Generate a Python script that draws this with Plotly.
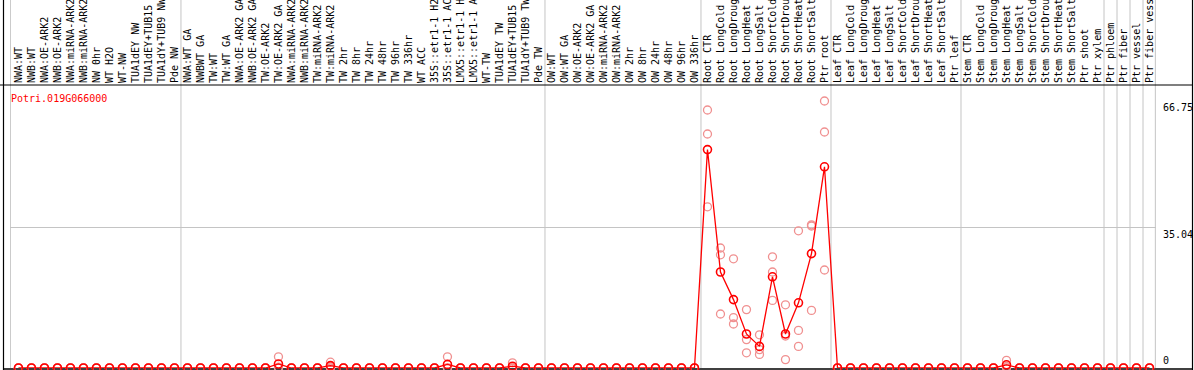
import plotly.graph_objects as go

# ---------------- data ----------------
labels = [
    "NWA:WT", "NWB:WT", "NWA:OE-ARK2", "NWB:OE-ARK2", "NWA:miRNA-ARK2", "NWB:miRNA-ARK2",
    "NW 0hr", "WT H2O", "WT-NW", "TUA1dEY NW", "TUA1dEY+TUB15", "TUA1dY+TUB9 NW", "Pde NW",
    "NWA:WT GA", "NWBWT GA", "TW:WT", "TW:WT GA", "NWA:OE-ARK2 GA", "NWB:OE-ARK2 GA",
    "TW:OE-ARK2", "TW:OE-ARK2 GA", "NWA:miRNA-ARK2", "NWB:miRNA-ARK2", "TW:miRNA-ARK2",
    "TW:miRNA-ARK2", "TW 2hr", "TW 8hr", "TW 24hr", "TW 48hr", "TW 96hr", "TW 336hr", "WT ACC",
    "35S::etr1-1 H2O", "35S::etr1-1 ACC", "LMX5::etr1-1 H2O", "LMX5::etr1-1 ACC", "WT-TW",
    "TUA1dEY TW", "TUA1dEY+TUB15", "TUA1dY+TUB9 TW", "Pde TW",
    "OW:WT", "OW:WT GA", "OW:OE-ARK2", "OW:OE-ARK2 GA", "OW:miRNA-ARK2", "OW:miRNA-ARK2",
    "OW 2hr", "OW 8hr", "OW 24hr", "OW 48hr", "OW 96hr", "OW 336hr",
    "Root CTR", "Root LongCold", "Root LongDrought", "Root LongHeat", "Root LongSalt",
    "Root ShortCold", "Root ShortDrought", "Root ShortHeat", "Root ShortSalt", "Ptr root",
    "Leaf CTR", "Leaf LongCold", "Leaf LongDrought", "Leaf LongHeat", "Leaf LongSalt",
    "Leaf ShortCold", "Leaf ShortDrought", "Leaf ShortHeat", "Leaf ShortSalt", "Ptr leaf",
    "Stem CTR", "Stem LongCold", "Stem LongDrought", "Stem LongHeat", "Stem LongSalt",
    "Stem ShortCold", "Stem ShortDrought", "Stem ShortHeat", "Stem ShortSalt", "Ptr shoot",
    "Ptr xylem", "Ptr phloem", "Ptr fiber", "Ptr vessel", "Ptr fiber vessel",
]

mean_values = [
    0, 0, 0, 0, 0, 0, 0, 0, 0, 0, 0, 0, 0,
    0, 0, 0, 0, 0, 0, 0, 1.0, 0, 0, 0, 0.6, 0, 0, 0, 0, 0, 0, 0, 0, 0.9, 0, 0, 0, 0, 0.45, 0, 0,
    0, 0, 0, 0, 0, 0, 0, 0, 0, 0, 0, 0,
    54.6, 24.0, 17.1, 8.5, 5.4, 22.8, 8.5, 16.3, 28.6, 50.3,
    0, 0, 0, 0, 0, 0, 0, 0, 0, 0,
    0, 0, 0, 0.8, 0, 0, 0, 0, 0, 0, 0,
    0, 0, 0, 0,
]

rep1 = [
    0, 0, 0, 0, 0, 0, 0, 0, 0, 0, 0, 0, 0,
    0, 0, 0, 0, 0, 0, 0, 2.8, 0, 0, 0, 1.45, 0, 0, 0, 0, 0, 0, 0, 0, 2.8, 0, 0, 0, 0, 1.3, 0, 0,
    0, 0, 0, 0, 0, 0, 0, 0, 0, 0, 0, 0,
    64.5, 30.0, 27.3, 14.6, 8.3, 27.8, 15.8, 34.3, 35.8, 66.75,
    0, 0, 0, 0, 0, 0, 0, 0, 0, 0,
    0, 0, 0, 1.9, 0, 0, 0, 0, 0, 0, 0,
    0, 0, 0, 0,
]
rep2 = [
    0, 0, 0, 0, 0, 0, 0, 0, 0, 0, 0, 0, 0,
    0, 0, 0, 0, 0, 0, 0, 0.2, 0, 0, 0, 0.3, 0, 0, 0, 0, 0, 0, 0, 0, 0, 0, 0, 0, 0, 0, 0, 0,
    0, 0, 0, 0, 0, 0, 0, 0, 0, 0, 0, 0,
    58.5, 28.3, 12.6, 7.1, 4.6, 24.0, 8.0, 9.4, 35.5, 59.0,
    0, 0, 0, 0, 0, 0, 0, 0, 0, 0,
    0, 0, 0, 0.4, 0, 0, 0, 0, 0, 0, 0,
    0, 0, 0, 0,
]
rep3 = [
    0, 0, 0, 0, 0, 0, 0, 0, 0, 0, 0, 0, 0,
    0, 0, 0, 0, 0, 0, 0, 0, 0, 0, 0, 0, 0, 0, 0, 0, 0, 0, 0, 0, 0, 0, 0, 0, 0, 0, 0, 0,
    0, 0, 0, 0, 0, 0, 0, 0, 0, 0, 0, 0,
    40.3, 13.5, 11.0, 3.8, 3.4, 16.9, 2.1, 5.4, 14.4, 24.5,
    0, 0, 0, 0, 0, 0, 0, 0, 0, 0,
    0, 0, 0, 0, 0, 0, 0, 0, 0, 0, 0,
    0, 0, 0, 0,
]

group_separators = [-0.62, 12.5, 40.5, 52.5, 62.5, 72.5, 83.5, 84.5, 85.5, 86.5, 87.45]
y_tick_values = [66.75, 35.04, 0]
gene_name = "Potri.019G066000"

# ---------------- layout geometry ----------------
W, H = 1194, 370
ML, MR, MT, MB = 10, 38, 85, 2
PW, PH = W - ML - MR, H - MT - MB
Y_MAX = PH / 4.0


def px_x(p):
    return (p - ML) / PW


def px_y(p):
    return (H - MB - p) / PH


FONT = "DejaVu Sans Mono"
RED = "#ff0000"
PINK = "#f09090"
GRID = "#c4c4c4"

xs = list(range(len(labels)))

fig = go.Figure()

rep_x, rep_y = [], []
for r in (rep1, rep2, rep3):
    rep_x += xs
    rep_y += r

fig.add_trace(go.Scatter(
    x=rep_x, y=rep_y, mode="markers",
    marker=dict(symbol="circle-open", size=8, color=PINK, line=dict(width=1.3, color=PINK)),
    cliponaxis=False, showlegend=False, hoverinfo="skip",
))
fig.add_trace(go.Scatter(
    x=xs, y=mean_values, mode="lines+markers",
    line=dict(color=RED, width=1.3),
    marker=dict(symbol="circle-open", size=8, color=RED, line=dict(width=1.6, color=RED)),
    cliponaxis=False, showlegend=False,
))

shapes = []
for s in group_separators:
    shapes.append(dict(type="line", xref="x", yref="paper", x0=s, x1=s,
                       y0=0, y1=px_y(0), line=dict(color=GRID, width=1), layer="below"))
# black frame lines
shapes.append(dict(type="line", xref="paper", yref="paper", x0=px_x(0), x1=px_x(1192.5),
                   y0=1, y1=1, line=dict(color="black", width=1.2)))
shapes.append(dict(type="line", xref="paper", yref="paper", x0=px_x(3.5), x1=px_x(1192.5),
                   y0=px_y(369), y1=px_y(369), line=dict(color="black", width=1.5), layer="below"))
shapes.append(dict(type="line", xref="paper", yref="paper", x0=px_x(3.5), x1=px_x(3.5),
                   y0=px_y(370), y1=px_y(0), line=dict(color="black", width=1.2)))
shapes.append(dict(type="line", xref="paper", yref="paper", x0=px_x(1192.5), x1=px_x(1192.5),
                   y0=px_y(370), y1=px_y(0), line=dict(color="black", width=1.2)))

annotations = [
    dict(text=gene_name, xref="paper", yref="paper", x=px_x(8.5), y=px_y(91),
         xanchor="left", yanchor="top", showarrow=False,
         font=dict(family=FONT, size=10, color=RED)),
]
for v in y_tick_values:
    annotations.append(dict(
        text=("%g" % v) if v else "0", xref="paper", yref="y", x=px_x(1163), y=v,
        xanchor="left", yanchor="top" if v > 0 else "bottom", showarrow=False,
        font=dict(family=FONT, size=10, color="black"), xshift=-2,
        yshift=1 if v > 0 else 0,
    ))

fig.update_layout(
    width=W, height=H,
    margin=dict(l=ML, r=MR, t=MT, b=MB, pad=0),
    paper_bgcolor="white", plot_bgcolor="white",
    shapes=shapes, annotations=annotations,
    xaxis=dict(
        range=[-0.65, 87.5], side="top", tickmode="array", tickvals=xs, ticktext=labels,
        tickangle=-90, tickfont=dict(family=FONT, size=10, color="black"),
        ticks="", showgrid=False, zeroline=False, showline=False, automargin=False,
        ticklabelstandoff=1,
    ),
    yaxis=dict(
        range=[0, Y_MAX], tickmode="array", tickvals=[35.04], showticklabels=False,
        showgrid=True, gridcolor=GRID, gridwidth=1, zeroline=False, showline=False,
        ticks="", automargin=False,
    ),
)

fig.write_html(
    "out.html",
    config={"displayModeBar": False},
    post_script="document.body.style.margin='0';document.body.style.overflow='hidden';",
)
